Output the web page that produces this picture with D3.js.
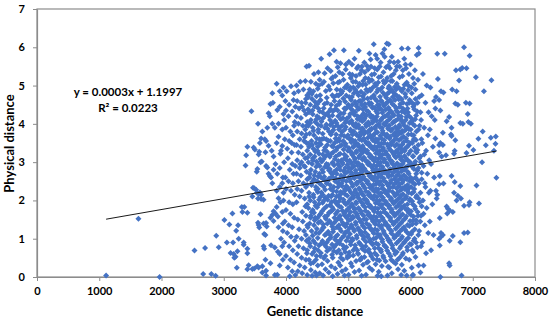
<!DOCTYPE html>
<html><head><meta charset="utf-8">
<script src="https://cdn.jsdelivr.net/npm/d3@7"></script>
<style>body{margin:0;background:#fff}svg{display:block}</style>
</head><body>
<svg id="c" width="550" height="321"></svg>
<script>
const xTicks=[0,1000,2000,3000,4000,5000,6000,7000,8000];
const yTicks=[0,1,2,3,4,5,6,7];
const trendX=[1110,7380];
const trendY=[1.51,3.29];
const equationLines=["y = 0.0003x + 1.1997","R\u00b2 = 0.0223"];
const xTitle="Genetic distance";
const yTitle="Physical distance";

// [genetic distance, physical distance]
const sparseLeft=[[1110,0.04],[1630,1.52],[1970,0.0],[2530,0.69],[2700,0.76],[2670,0.08],[2800,0.08],[2870,0.03],[2880,1.08],[2920,0.78],[3010,1.49],[3050,0.9],[3090,1.37],[3110,0.63],[3140,1.66],[3150,0.9],[3160,0.6],[3170,0.5],[3190,0.53],[3200,1.21],[3230,1.35],[3210,0.24],[3220,0.67],[3240,1.0],[3290,1.83],[3300,1.7],[3330,1.83],[3380,1.68],[3320,0.9],[3320,0.84],[3380,0.74],[3380,0.62],[3400,0.31],[3380,0.2],[3460,0.21],[3490,0.22],[3540,0.28],[3350,2.91],[3470,2.33],[3490,2.32],[3530,2.2],[3560,2.17],[3580,2.21],[3550,2.05],[3600,2.04],[3590,1.64],[3550,1.42],[3570,1.29],[3640,1.4],[3680,1.41],[3650,1.12],[3650,0.74],[3670,0.45],[3680,0.16],[3680,0.04],[3620,0.28],[3530,2.75],[3540,2.82],[3590,3.0],[3610,3.02],[3680,2.9],[3700,2.86],[3720,2.7],[3740,2.64],
[3445,4.33],[3750,4.52],[3790,4.55],[3720,4.28],[3740,4.2],[3380,3.4],[3480,3.38],[3500,3.33],[3580,3.5],[3660,3.6],[3720,3.43],[3570,3.27],[3670,3.26],[3770,3.3],[3940,4.74],[3860,4.36],[3900,4.45],[3960,4.26],[3600,3.62],[3680,3.55],[3880,3.66],[3940,3.42],[3360,3.18],[3560,3.2],[3800,3.15],[3910,3.22],
[3750,1.55],[3800,1.72],[3850,1.83],[3780,1.62],[3830,1.66],[3870,1.58],[3560,1.36],[3690,1.32],[3800,1.46],[3880,1.3],[3670,1.1],[3640,0.8],[3760,0.83],[3820,0.77],[3900,0.6],[3870,0.66],[3750,0.36],[3820,0.05],[3860,0.06],[3560,0.25],[3620,0.12],[3460,2.1],[3520,2.28],[3640,2.02],[3600,2.15],[3880,2.06],[3900,2.35],[3940,2.45],[3960,2.2],[3860,2.7],[3800,2.8],[3760,2.6],
[3820,3.9],[3880,4.0],[3940,3.85],[3850,3.5],[3920,3.3],[3830,2.95],[3900,2.85],[3950,2.6],[3780,2.45],[3850,2.25],[3910,1.95],[3940,1.7],[3950,1.4],[3920,1.0],[3940,0.8],[3900,0.3],[3950,0.45],[3780,4.0],[3700,3.9],[3620,3.8],[3550,4.0],[3780,4.8],[3850,5.05],[3900,4.85]];

const coreWest=[[3960,4.95],[4010,4.85],[4080,4.98],[4130,4.8],[3990,4.6],[4050,4.5],[4120,4.62],[3970,4.1],[4040,4.2],[4100,4.32],[4140,4.05],[4000,3.9],[4070,3.8],[4130,3.95],[3980,3.6],[4050,3.55],[4110,3.7],[4020,3.35],[4090,3.25],[4140,3.45],[3970,3.0],[4030,3.1],[4100,2.95],[4060,2.8],[4120,2.7],[3990,2.6],[4040,2.5],[4110,2.45],[4000,2.3],[4080,2.25],[4140,2.15],[3960,2.0],[4050,1.95],[4110,1.9],[4000,1.75],[4070,1.65],[4130,1.55],[3980,1.45],[4040,1.35],[4100,1.3],[4020,1.15],[4080,1.05],[4140,0.95],[3970,0.9],[4050,0.8],[4110,0.7],[4000,0.55],[4070,0.45],[4130,0.38],[4030,0.25],[4100,0.15],[4060,0.02],[4150,0.05],[3950,1.2],[4150,2.9],[4090,3.5],[4000,4.35],[4150,4.45],
[4170,5.0],[4230,5.1],[4310,5.12],[4330,5.5],[4200,4.85],[4280,4.9],[4340,4.75],[4180,4.6],[4250,4.55],[4320,4.65],[4210,4.4],[4290,4.35],[4170,4.2],[4240,4.15],[4320,4.25],[4200,4.0],[4270,3.95],[4340,4.05],[4180,3.8],[4250,3.75],[4310,3.85],[4220,3.6],[4290,3.55],[4170,3.45],[4240,3.4],[4330,3.5],[4200,3.25],[4270,3.2],[4340,3.3],[4180,3.05],[4250,3.0],[4310,3.1],[4220,2.85],[4290,2.9],[4170,2.7],[4240,2.65],[4330,2.75],[4200,2.5],[4280,2.45],[4340,2.55],[4180,2.3],[4250,2.25],[4320,2.35],[4220,2.1],[4300,2.05],[4170,1.95],[4340,1.9],[4260,1.7],[4320,1.6],[4190,1.5],[4270,1.45],[4340,1.35],[4210,1.25],[4290,1.2],[4170,1.05],[4250,1.0],[4330,0.95],[4200,0.8],[4280,0.75],[4340,0.7],[4180,0.6],[4250,0.5],[4320,0.45],[4220,0.3],[4300,0.25],[4260,0.1],[4340,0.05],[4190,0.15],[4230,2.95],[4300,3.65],[4260,4.45],
[4370,5.52],[4450,5.3],[4520,5.35],[4400,5.1],[4480,5.05],[4540,5.15],[4380,4.9],[4440,4.85],[4510,4.92],[4360,4.7],[4420,4.65],[4490,4.72],[4540,4.6],[4390,4.5],[4460,4.45],[4520,4.4],[4370,4.3],[4430,4.25],[4500,4.2],[4540,4.32],[4400,4.1],[4470,4.05],[4360,3.95],[4430,3.9],[4510,3.98],[4380,3.75],[4450,3.7],[4520,3.78],[4410,3.55],[4480,3.5],[4540,3.6],[4370,3.4],[4440,3.35],[4510,3.4],[4390,3.2],[4460,3.15],[4530,3.22],[4360,3.0],[4420,2.95],[4490,3.02],[4540,2.9],[4400,2.8],[4470,2.75],[4380,2.6],[4450,2.55],[4520,2.62],[4410,2.4],[4480,2.35],[4540,2.45],[4370,2.2],[4440,2.15],[4510,2.22],[4390,2.0],[4460,1.95],[4530,2.02],[4360,1.8],[4430,1.75],[4500,1.82],[4400,1.6],[4470,1.55],[4540,1.62],[4380,1.4],[4450,1.35],[4520,1.42],[4410,1.2],[4480,1.15],[4370,1.0],[4440,0.95],[4510,1.02],[4390,0.8],[4460,0.75],[4530,0.82],[4420,0.6],[4490,0.55],[4370,0.45],[4440,0.38],[4510,0.3],[4400,0.18],[4470,0.12],[4420,0.03],[4490,0.04],[4540,0.1],[4450,1.68],[4500,2.5],[4430,3.05],
[4565,5.7],[4620,5.32],[4580,5.05],[4640,4.86],[4555,4.62],[4605,4.41],[4635,4.24],[4570,4.06],[4625,3.9],[4590,3.74],[4648,3.6],[4560,3.47],[4612,3.31],[4640,3.16],[4575,3.02],[4628,2.88],[4595,2.74],[4556,2.61],[4645,2.5],[4605,2.36],[4568,2.21],[4632,2.07],[4588,1.94],[4615,1.79],[4560,1.66],[4640,1.52],[4598,1.37],[4572,1.22],[4625,1.1],[4585,0.94],[4645,0.79],[4560,0.63],[4610,0.49],[4578,0.33],[4635,0.2],[4595,0.04],
[4700,5.82],[4668,5.45],[4730,5.18],[4685,4.98],[4745,4.75],[4660,4.55],[4715,4.38],[4690,4.2],[4740,4.02],[4665,3.88],[4722,3.72],[4680,3.56],[4738,3.42],[4658,3.28],[4705,3.14],[4748,2.99],[4675,2.85],[4728,2.71],[4692,2.57],[4655,2.44],[4715,2.3],[4745,2.15],[4670,2.02],[4708,1.88],[4735,1.73],[4662,1.6],[4698,1.46],[4742,1.32],[4678,1.18],[4720,1.03],[4655,0.9],[4705,0.74],[4740,0.58],[4668,0.42],[4725,0.28],[4688,0.12],[4750,0.02],[4712,3.97],[4676,2.93],[4731,1.96],
[4770,5.92],[4830,5.48],[4795,5.25],[4760,5.06],[4815,4.9],[4845,4.74],[4778,4.6],[4808,4.47],[4755,4.33],[4838,4.2],[4790,4.08],[4822,3.96],[4762,3.84],[4805,3.72],[4848,3.61],[4780,3.5],[4825,3.38],[4758,3.26],[4800,3.15],[4840,3.03],[4772,2.92],[4815,2.81],[4752,2.69],[4795,2.58],[4835,2.46],[4768,2.35],[4812,2.23],[4846,2.12],[4782,2.0],[4825,1.89],[4760,1.77],[4800,1.65],[4842,1.54],[4775,1.42],[4818,1.3],[4756,1.18],[4798,1.05],[4836,0.92],[4770,0.78],[4815,0.64],[4750,0.5],[4840,0.38],[4790,0.22],[4828,0.08],
[4930,5.92],[4875,5.58],[4910,5.3],[4860,5.1],[4945,4.95],[4890,4.8],[4920,4.66],[4855,4.52],[4938,4.4],[4880,4.27],[4912,4.15],[4948,4.03],[4868,3.91],[4900,3.79],[4935,3.68],[4858,3.56],[4892,3.45],[4925,3.33],[4870,3.22],[4942,3.1],[4905,2.99],[4862,2.88],[4930,2.76],[4885,2.65],[4915,2.53],[4852,2.42],[4945,2.3],[4895,2.19],[4870,2.07],[4928,1.96],[4858,1.84],[4908,1.73],[4940,1.61],[4880,1.5],[4918,1.38],[4865,1.26],[4945,1.14],[4898,1.02],[4860,0.88],[4930,0.74],[4885,0.6],[4915,0.46],[4870,0.3],[4900,0.15],[4940,0.04]];

const coreMiddle=[[5010,5.62],[4960,5.42],[5040,5.2],[4985,5.02],[5025,4.88],[4968,4.74],[5045,4.62],[5002,4.5],[4955,4.38],[5030,4.26],[4978,4.14],[5018,4.03],[4962,3.92],[5042,3.81],[4995,3.7],[5028,3.59],[4958,3.48],[5010,3.37],[5048,3.26],[4972,3.15],[5022,3.04],[4988,2.93],[5040,2.82],[4955,2.71],[5005,2.6],[5035,2.49],[4970,2.38],[5015,2.27],[4950,2.16],[5045,2.05],[4992,1.94],[5025,1.83],[4962,1.72],[5008,1.61],[5040,1.5],[4978,1.39],[5020,1.28],[4955,1.16],[5000,1.04],[5035,0.92],[4970,0.78],[5015,0.64],[4985,0.5],[5042,0.36],[4960,0.2],[5005,0.06],
[5100,5.7],[5140,5.45],[5065,5.28],[5120,5.1],[5082,4.95],[5145,4.82],[5058,4.7],[5110,4.58],[5135,4.46],[5072,4.35],[5098,4.24],[5148,4.13],[5060,4.02],[5125,3.91],[5090,3.8],[5140,3.7],[5055,3.6],[5115,3.5],[5078,3.39],[5132,3.29],[5062,3.19],[5105,3.08],[5145,2.98],[5085,2.88],[5120,2.78],[5052,2.68],[5098,2.58],[5138,2.47],[5070,2.37],[5112,2.27],[5148,2.17],[5082,2.07],[5125,1.96],[5058,1.86],[5102,1.76],[5140,1.65],[5075,1.54],[5118,1.43],[5052,1.32],[5095,1.2],[5135,1.08],[5068,0.96],[5110,0.83],[5145,0.7],[5080,0.56],[5125,0.42],[5060,0.28],[5100,0.13],
[5170,5.91],[5220,5.5],[5188,5.3],[5240,5.12],[5160,4.98],[5205,4.84],[5232,4.72],[5175,4.6],[5215,4.49],[5155,4.38],[5245,4.27],[5192,4.17],[5225,4.07],[5165,3.97],[5208,3.87],[5238,3.77],[5178,3.67],[5218,3.57],[5158,3.47],[5198,3.37],[5242,3.27],[5182,3.17],[5228,3.07],[5165,2.97],[5205,2.87],[5235,2.77],[5172,2.67],[5212,2.57],[5155,2.47],[5248,2.37],[5190,2.27],[5222,2.17],[5162,2.07],[5200,1.97],[5240,1.87],[5178,1.76],[5215,1.66],[5152,1.56],[5195,1.45],[5232,1.34],[5170,1.23],[5210,1.11],[5245,0.99],[5185,0.87],[5225,0.74],[5160,0.6],[5200,0.46],[5238,0.32],[5175,0.17],[5215,0.03],
[5340,5.84],[5300,5.52],[5265,5.35],[5325,5.18],[5280,5.03],[5345,4.9],[5258,4.78],[5310,4.66],[5335,4.55],[5272,4.44],[5298,4.34],[5348,4.24],[5262,4.14],[5322,4.04],[5288,3.94],[5340,3.84],[5255,3.74],[5315,3.64],[5278,3.54],[5332,3.44],[5262,3.34],[5305,3.24],[5345,3.14],[5285,3.04],[5320,2.94],[5252,2.84],[5298,2.74],[5338,2.64],[5270,2.54],[5312,2.44],[5348,2.34],[5282,2.24],[5325,2.14],[5258,2.04],[5302,1.94],[5340,1.84],[5275,1.73],[5318,1.62],[5252,1.51],[5295,1.4],[5335,1.29],[5268,1.17],[5310,1.05],[5345,0.93],[5280,0.8],[5325,0.66],[5260,0.52],[5300,0.38],[5340,0.24],[5285,0.06],
[5410,6.08],[5440,5.8],[5365,5.5],[5420,5.3],[5382,5.14],[5445,5.0],[5358,4.87],[5410,4.75],[5435,4.64],[5372,4.53],[5398,4.43],[5448,4.33],[5360,4.23],[5425,4.13],[5390,4.03],[5440,3.93],[5355,3.83],[5415,3.73],[5378,3.63],[5432,3.53],[5362,3.43],[5405,3.33],[5445,3.23],[5385,3.13],[5420,3.03],[5352,2.93],[5398,2.83],[5438,2.73],[5370,2.63],[5412,2.53],[5448,2.43],[5382,2.33],[5425,2.23],[5358,2.13],[5402,2.03],[5440,1.93],[5375,1.82],[5418,1.71],[5352,1.6],[5395,1.49],[5435,1.38],[5368,1.26],[5410,1.14],[5445,1.02],[5380,0.89],[5425,0.75],[5360,0.61],[5400,0.47],[5440,0.33],[5385,0.18],[5470,0.03]];

const coreEast=[[5550,5.84],[5520,5.6],[5465,5.42],[5525,5.24],[5480,5.08],[5545,4.95],[5458,4.83],[5510,4.71],[5535,4.6],[5472,4.49],[5498,4.39],[5548,4.29],[5460,4.19],[5522,4.09],[5488,3.99],[5540,3.89],[5455,3.79],[5515,3.69],[5478,3.59],[5532,3.49],[5462,3.39],[5505,3.29],[5545,3.19],[5485,3.09],[5520,2.99],[5452,2.89],[5498,2.79],[5538,2.69],[5470,2.59],[5512,2.49],[5548,2.39],[5482,2.29],[5525,2.19],[5458,2.09],[5502,1.99],[5540,1.89],[5475,1.78],[5518,1.67],[5452,1.56],[5495,1.45],[5535,1.34],[5468,1.22],[5510,1.1],[5545,0.98],[5480,0.85],[5525,0.71],[5460,0.57],[5500,0.43],[5540,0.29],[5490,0.14],[5530,0.02],
[5620,6.1],[5650,6.08],[5585,5.75],[5640,5.52],[5565,5.35],[5625,5.2],[5580,5.06],[5645,4.93],[5558,4.81],[5610,4.69],[5635,4.58],[5572,4.47],[5598,4.37],[5648,4.27],[5560,4.17],[5622,4.07],[5588,3.97],[5640,3.87],[5555,3.77],[5615,3.67],[5578,3.57],[5632,3.47],[5562,3.37],[5605,3.27],[5645,3.17],[5585,3.07],[5620,2.97],[5552,2.87],[5598,2.77],[5638,2.67],[5570,2.57],[5612,2.47],[5648,2.37],[5582,2.27],[5625,2.17],[5558,2.07],[5602,1.97],[5640,1.87],[5575,1.76],[5618,1.65],[5552,1.54],[5595,1.43],[5635,1.32],[5568,1.2],[5610,1.08],[5645,0.96],[5580,0.83],[5625,0.69],[5560,0.55],[5600,0.41],[5640,0.27],[5630,0.04],
[5700,5.75],[5670,5.45],[5730,5.3],[5685,5.12],[5745,4.96],[5660,4.83],[5715,4.7],[5690,4.58],[5740,4.47],[5665,4.36],[5722,4.26],[5680,4.16],[5738,4.06],[5658,3.96],[5705,3.86],[5748,3.76],[5675,3.66],[5728,3.56],[5692,3.46],[5655,3.36],[5715,3.26],[5745,3.16],[5670,3.06],[5708,2.96],[5735,2.86],[5662,2.76],[5698,2.66],[5742,2.56],[5678,2.46],[5720,2.36],[5655,2.26],[5748,2.16],[5690,2.06],[5722,1.96],[5662,1.86],[5700,1.76],[5740,1.65],[5678,1.54],[5715,1.43],[5652,1.32],[5695,1.2],[5735,1.08],[5668,0.95],[5710,0.82],[5745,0.68],[5680,0.54],[5725,0.4],[5660,0.25],[5700,0.1],
[5860,5.97],[5800,5.62],[5765,5.4],[5825,5.22],[5780,5.05],[5845,4.9],[5758,4.77],[5810,4.64],[5835,4.52],[5772,4.41],[5798,4.3],[5848,4.19],[5760,4.08],[5822,3.97],[5788,3.87],[5840,3.77],[5755,3.67],[5815,3.57],[5778,3.47],[5832,3.37],[5762,3.27],[5805,3.17],[5845,3.07],[5785,2.97],[5820,2.87],[5752,2.77],[5798,2.67],[5838,2.57],[5770,2.47],[5812,2.37],[5848,2.27],[5782,2.17],[5825,2.07],[5758,1.97],[5802,1.87],[5840,1.76],[5775,1.65],[5818,1.54],[5752,1.43],[5795,1.32],[5835,1.2],[5768,1.07],[5810,0.94],[5845,0.8],[5780,0.65],[5825,0.5],[5760,0.35],[5800,0.2],[5850,0.05],
[5960,5.97],[5900,5.7],[5930,5.45],[5870,5.25],[5940,5.08],[5885,4.92],[5915,4.78],[5858,4.64],[5945,4.52],[5878,4.4],[5910,4.29],[5935,4.18],[5862,4.07],[5898,3.96],[5928,3.86],[5855,3.76],[5890,3.66],[5940,3.56],[5870,3.46],[5918,3.36],[5852,3.26],[5905,3.16],[5945,3.06],[5875,2.96],[5920,2.86],[5858,2.76],[5895,2.66],[5938,2.56],[5868,2.46],[5912,2.36],[5948,2.26],[5880,2.16],[5925,2.06],[5855,1.96],[5900,1.86],[5940,1.75],[5872,1.64],[5915,1.53],[5852,1.42],[5895,1.3],[5935,1.18],[5865,1.05],[5910,0.92],[5945,0.78],[5880,0.63],[5925,0.48],[5860,0.32],[5900,0.16],[5940,0.04],
[6000,5.55],[6040,5.2],[5965,5.0],[6020,4.8],[5985,4.62],[6045,4.45],[5960,4.3],[6010,4.15],[6035,4.0],[5975,3.86],[6015,3.72],[6048,3.58],[5968,3.44],[6005,3.3],[6040,3.16],[5980,3.02],[6025,2.88],[5958,2.74],[6000,2.6],[6042,2.46],[5972,2.32],[6018,2.18],[5990,2.04],[6035,1.9],[5962,1.76],[6008,1.62],[6045,1.48],[5982,1.33],[6025,1.18],[5965,1.02],[6010,0.85],[6040,0.66],[5980,0.45],[6020,0.24],[6035,0.04],
[6130,5.98],[6100,5.8],[6135,5.84],[6070,5.4],[6120,5.15],[6080,4.9],[6140,4.7],[6060,4.5],[6110,4.32],[6075,4.12],[6145,3.95],[6095,3.8],[6060,3.62],[6125,3.45],[6085,3.28],[6140,3.1],[6065,2.95],[6110,2.78],[6080,2.6],[6135,2.45],[6060,2.3],[6100,2.12],[6145,1.95],[6075,1.78],[6120,1.6],[6090,1.4],[6140,1.2],[6065,1.0],[6110,0.78],[6080,0.52],[6130,0.3],[6040,0.06]];

const coreDenseWest=[[4315,4.55],[4355,4.38],[4390,4.02],[4325,3.72],[4362,3.48],[4345,3.12],[4305,2.88],[4385,2.7],[4338,2.4],[4372,2.1],[4312,1.85],[4395,1.55],[4350,1.3],[4320,1.1],[4380,0.88],[4335,0.62],[4398,0.35],[4360,2.58],[4330,3.95],[4375,4.82],
[4415,4.78],[4465,4.58],[4425,4.35],[4488,4.12],[4440,3.82],[4495,3.62],[4418,3.45],[4470,3.28],[4432,3.1],[4485,2.88],[4455,2.65],[4420,2.48],[4490,2.28],[4445,2.08],[4475,1.86],[4412,1.7],[4460,1.48],[4495,1.26],[4428,1.08],[4470,0.88],[4445,0.65],[4482,0.45],
[4525,5.0],[4548,4.75],[4505,4.52],[4585,4.3],[4532,4.15],[4562,3.95],[4518,3.85],[4575,3.6],[4540,3.5],[4505,3.3],[4590,3.2],[4550,3.08],[4515,2.95],[4580,2.8],[4535,2.7],[4600,2.55],[4558,2.42],[4512,2.3],[4590,2.15],[4548,2.08],[4525,1.9],[4578,1.72],[4508,1.55],[4555,1.45],[4592,1.28],[4530,1.15],[4570,0.88],[4515,0.7],[4552,0.55],
[4610,5.1],[4655,4.68],[4618,4.52],[4682,4.3],[4598,4.15],[4648,3.98],[4690,3.8],[4608,3.62],[4662,3.45],[4628,3.38],[4688,3.2],[4605,3.08],[4650,2.95],[4692,2.78],[4615,2.62],[4668,2.5],[4630,2.28],[4685,2.12],[4610,2.0],[4655,1.85],[4690,1.68],[4625,1.58],[4665,1.4],[4605,1.3],[4648,1.12],[4688,0.98],[4618,0.85],[4660,0.68],[4632,0.55],
[4718,5.38],[4752,5.22],[4705,4.9],[4770,4.7],[4725,4.5],[4790,4.38],[4745,4.22],[4708,4.1],[4768,3.92],[4735,3.78],[4795,3.62],[4712,3.55],[4760,3.4],[4728,3.22],[4785,3.08],[4748,2.98],[4705,2.82],[4772,2.75],[4738,2.62],[4790,2.5],[4710,2.4],[4755,2.25],[4725,2.1],[4792,1.95],[4742,1.82],[4708,1.7],[4778,1.55],[4730,1.4],[4762,1.25],[4712,1.1],[4788,0.98],[4740,0.85],[4768,0.68],
[4812,5.62],[4855,5.35],[4835,5.08],[4875,4.88],[4818,4.75],[4862,4.58],[4830,4.35],[4880,4.12],[4812,4.02],[4850,3.85],[4885,3.7],[4828,3.55],[4865,3.42],[4808,3.32],[4848,3.2],[4890,3.05],[4832,2.95],[4870,2.8],[4815,2.7],[4855,2.55],[4892,2.45],[4835,2.35],[4878,2.22],[4810,2.1],[4852,1.98],[4888,1.82],[4830,1.72],[4868,1.6],[4810,1.48],[4850,1.35],[4885,1.2],[4828,1.1],[4865,0.95],[4808,0.85],[4848,0.7],[4880,0.5],
[4962,5.55],[4925,5.15],[4975,4.95],[4905,4.85],[4952,4.58],[4988,4.45],[4928,4.28],[4965,4.08],[4902,3.95],[4945,3.85],[4982,3.65],[4920,3.55],[4958,3.42],[4995,3.3],[4938,3.2],[4975,3.05],[4910,2.95],[4952,2.85],[4990,2.75],[4930,2.62],[4968,2.5],[4902,2.38],[4945,2.25],[4985,2.12],[4925,2.02],[4962,1.9],[4998,1.78],[4935,1.66],[4975,1.55],[4912,1.42],[4955,1.32],[4990,1.2],[4932,1.08],[4970,0.95],[4915,0.82],[4952,0.65],[4990,0.55]];

const coreDenseMiddle=[[5060,5.55],[5022,5.3],[5075,5.1],[5035,4.95],[5090,4.8],[5015,4.7],[5065,4.5],[5040,4.4],[5085,4.3],[5012,4.18],[5055,4.08],[5090,3.95],[5035,3.85],[5070,3.72],[5005,3.65],[5048,3.52],[5088,3.42],[5025,3.3],[5062,3.22],[5095,3.12],[5038,3.0],[5075,2.92],[5012,2.85],[5052,2.72],[5090,2.62],[5030,2.55],[5068,2.42],[5005,2.32],[5045,2.2],[5082,2.12],[5022,2.0],[5060,1.9],[5095,1.8],[5035,1.7],[5072,1.58],[5010,1.48],[5050,1.36],[5088,1.25],[5028,1.12],[5065,1.0],[5040,0.85],[5080,0.7],[5020,0.55],
[5160,5.5],[5125,5.25],[5180,5.05],[5112,4.9],[5165,4.75],[5195,4.6],[5132,4.52],[5175,4.4],[5108,4.3],[5150,4.2],[5188,4.1],[5122,4.0],[5168,3.9],[5198,3.78],[5135,3.72],[5182,3.6],[5110,3.55],[5155,3.42],[5192,3.32],[5128,3.25],[5170,3.12],[5105,3.02],[5148,2.92],[5185,2.82],[5120,2.72],[5162,2.62],[5198,2.52],[5135,2.42],[5175,2.32],[5108,2.22],[5150,2.12],[5190,2.02],[5128,1.92],[5165,1.8],[5105,1.7],[5145,1.6],[5185,1.5],[5122,1.38],[5160,1.28],[5198,1.15],[5138,1.02],[5175,0.9],[5112,0.76],[5155,0.62],[5190,0.45],
[5258,5.6],[5212,5.4],[5275,5.2],[5230,5.02],[5290,4.9],[5250,4.65],[5205,4.58],[5268,4.52],[5235,4.38],[5292,4.22],[5210,4.2],[5252,4.1],[5282,3.98],[5228,3.88],[5265,3.8],[5205,3.72],[5248,3.62],[5290,3.5],[5232,3.42],[5270,3.3],[5208,3.22],[5252,3.12],[5288,3.02],[5222,2.92],[5262,2.82],[5205,2.72],[5245,2.62],[5285,2.52],[5228,2.42],[5268,2.32],[5208,2.22],[5250,2.12],[5290,2.02],[5232,1.92],[5270,1.82],[5205,1.72],[5248,1.6],[5288,1.5],[5225,1.4],[5265,1.28],[5208,1.18],[5248,1.05],[5285,0.92],[5228,0.8],[5268,0.68],[5212,0.5],
[5360,5.68],[5318,5.42],[5378,5.28],[5335,5.1],[5395,4.95],[5312,4.85],[5365,4.68],[5342,4.5],[5388,4.42],[5320,4.32],[5362,4.18],[5395,4.08],[5335,3.98],[5375,3.88],[5310,3.78],[5352,3.7],[5392,3.58],[5328,3.5],[5368,3.38],[5305,3.3],[5345,3.2],[5385,3.08],[5322,3.0],[5362,2.9],[5398,2.78],[5335,2.7],[5372,2.58],[5310,2.5],[5350,2.4],[5390,2.28],[5328,2.2],[5365,2.08],[5305,1.98],[5345,1.88],[5385,1.78],[5322,1.68],[5360,1.55],[5398,1.45],[5338,1.35],[5375,1.22],[5312,1.1],[5352,0.98],[5390,0.85],[5330,0.72],[5368,0.55],[5318,0.4],
[5465,5.7],[5425,5.45],[5490,5.22],[5432,5.05],[5478,4.9],[5412,4.7],[5462,4.6],[5495,4.5],[5428,4.42],[5470,4.28],[5405,4.18],[5452,4.08],[5490,3.98],[5430,3.88],[5468,3.78],[5402,3.68],[5445,3.6],[5485,3.5],[5422,3.4],[5462,3.3],[5498,3.2],[5438,3.1],[5475,3.0],[5410,2.92],[5452,2.8],[5490,2.7],[5428,2.62],[5468,2.5],[5405,2.4],[5445,2.3],[5482,2.2],[5420,2.12],[5460,2.0],[5498,1.9],[5435,1.8],[5475,1.68],[5412,1.58],[5452,1.48],[5490,1.36],[5430,1.25],[5470,1.12],[5408,1.0],[5448,0.88],[5488,0.75],[5428,0.62],[5465,0.45]];

const coreDenseEast=[[5580,5.95],[5505,5.5],[5565,5.12],[5515,4.9],[5590,4.75],[5525,4.6],[5568,4.52],[5505,4.42],[5548,4.35],[5590,4.2],[5528,4.12],[5572,4.0],[5508,3.92],[5552,3.82],[5595,3.7],[5535,3.62],[5575,3.5],[5510,3.42],[5555,3.32],[5592,3.22],[5530,3.12],[5570,3.02],[5505,2.92],[5548,2.82],[5588,2.72],[5525,2.62],[5565,2.52],[5502,2.42],[5545,2.32],[5585,2.22],[5522,2.12],[5562,2.02],[5598,1.92],[5538,1.82],[5578,1.7],[5515,1.6],[5555,1.5],[5592,1.38],[5532,1.28],[5572,1.15],[5508,1.05],[5548,0.92],[5588,0.8],[5528,0.66],[5568,0.5],
[5668,5.62],[5608,5.48],[5690,5.25],[5612,5.12],[5655,4.98],[5690,4.9],[5625,4.78],[5668,4.62],[5605,4.52],[5648,4.42],[5688,4.32],[5625,4.22],[5665,4.12],[5602,4.02],[5645,3.92],[5685,3.82],[5622,3.72],[5662,3.62],[5698,3.52],[5640,3.42],[5678,3.32],[5612,3.22],[5652,3.12],[5692,3.02],[5632,2.92],[5672,2.82],[5608,2.72],[5648,2.62],[5688,2.52],[5628,2.42],[5665,2.32],[5602,2.22],[5642,2.12],[5682,2.02],[5622,1.92],[5660,1.8],[5698,1.7],[5638,1.6],[5678,1.48],[5615,1.38],[5655,1.26],[5692,1.14],[5632,1.02],[5672,0.9],[5612,0.78],[5652,0.62],[5690,0.45],
[5735,5.6],[5780,5.5],[5710,5.12],[5768,4.9],[5725,4.82],[5790,4.72],[5752,4.62],[5708,4.52],[5772,4.35],[5732,4.22],[5795,4.12],[5712,4.02],[5758,3.92],[5792,3.82],[5728,3.72],[5768,3.62],[5705,3.52],[5750,3.42],[5788,3.32],[5725,3.22],[5765,3.12],[5705,3.02],[5748,2.92],[5785,2.82],[5722,2.72],[5762,2.62],[5798,2.52],[5738,2.42],[5775,2.32],[5712,2.22],[5752,2.12],[5790,2.02],[5730,1.92],[5768,1.82],[5705,1.7],[5745,1.6],[5785,1.48],[5725,1.38],[5762,1.26],[5798,1.14],[5738,1.02],[5775,0.88],[5712,0.75],[5752,0.6],[5792,0.45],
[5825,5.5],[5878,5.4],[5808,4.95],[5862,4.85],[5818,4.7],[5880,4.55],[5828,4.45],[5862,4.32],[5805,4.22],[5845,4.12],[5885,4.02],[5825,3.92],[5865,3.82],[5802,3.72],[5848,3.62],[5888,3.52],[5828,3.42],[5868,3.32],[5808,3.22],[5850,3.12],[5888,3.02],[5830,2.92],[5870,2.82],[5808,2.72],[5848,2.62],[5885,2.52],[5825,2.42],[5865,2.32],[5802,2.22],[5842,2.12],[5882,2.02],[5822,1.92],[5862,1.82],[5805,1.7],[5845,1.6],[5885,1.48],[5825,1.38],[5862,1.25],[5808,1.12],[5848,1.0],[5888,0.88],[5828,0.75],[5868,0.58],
[5920,5.55],[5975,5.3],[5905,5.02],[5962,4.88],[5925,4.7],[5985,4.55],[5952,4.4],[5905,4.35],[5968,4.22],[5925,4.1],[5988,4.02],[5948,3.92],[5905,3.82],[5965,3.72],[5928,3.62],[5990,3.5],[5950,3.4],[5908,3.3],[5970,3.22],[5930,3.1],[5992,3.0],[5955,2.9],[5910,2.8],[5972,2.7],[5932,2.6],[5990,2.5],[5952,2.4],[5908,2.3],[5968,2.2],[5930,2.1],[5988,2.0],[5950,1.9],[5910,1.8],[5970,1.68],[5930,1.58],[5992,1.46],[5952,1.36],[5912,1.24],[5972,1.12],[5935,0.98],[5990,0.86],[5950,0.7],
[6060,5.05],[6015,4.95],[6080,4.65],[6025,4.55],[6060,4.38],[6090,4.22],[6030,4.08],[6068,3.95],[6005,3.85],[6050,3.7],[6088,3.58],[6028,3.5],[6065,3.38],[6098,3.25],[6040,3.15],[6078,3.02],[6012,2.95],[6055,2.82],[6092,2.7],[6032,2.55],[6070,2.42],[6010,2.35],[6050,2.22],[6088,2.08],[6028,1.98],[6068,1.85],[6008,1.72],[6048,1.58],[6090,1.48],[6030,1.38],[6068,1.25],[6012,1.12],[6050,0.95],[6088,0.9],[6030,0.7],
[6115,4.55],[6160,4.3],[6130,3.85],[6175,3.6],[6112,3.32],[6165,3.0],[6128,2.85],[6180,2.72],[6118,2.52],[6160,2.2],[6130,2.05],[6180,1.85],[6115,1.7],[6158,1.45],[6125,1.1],[6170,0.8],[6220,3.2],[6230,2.45],[6210,1.65]];

const sparseRight=[[6200,5.3],[6260,5.0],[6180,4.75],[6240,4.55],[6290,4.3],[6170,4.1],[6220,3.9],[6280,3.7],[6190,3.5],[6250,3.3],[6160,3.15],[6300,3.05],[6210,2.9],[6270,2.7],[6180,2.55],[6240,2.35],[6295,2.2],[6200,2.0],[6260,1.8],[6170,1.6],[6230,1.35],[6285,1.15],[6190,0.9],[6250,0.62],[6210,0.3],[6160,0.12],
[6320,4.95],[6380,4.6],[6340,4.2],[6310,3.85],[6360,3.4],[6330,2.95],[6380,2.6],[6320,2.25],[6350,1.9],[6310,1.45],[6370,1.1],[6330,0.7],
[6430,5.83],[6550,5.83],[6860,6.0],[6950,5.78],[6730,5.4],[6800,5.42],[6830,5.46],[6900,5.45],[6780,5.13],[7050,5.22],[7300,5.14],[6440,5.17],[6490,4.85],[6670,4.9],[6740,4.85],[7180,4.85],[6760,4.5],[6950,4.53],[6920,4.26],[6930,4.05],[6970,4.0],[6800,4.02],[6840,4.0],[6580,4.07],[6390,4.1],[6650,3.72],[6660,3.68],[6400,3.62],[6480,3.5],[6520,3.45],[6460,3.45],[7090,3.61],[7210,3.44],[7365,3.48],[7010,3.32],[6900,3.24],[6710,3.3],[6700,3.22],[6460,3.25],[6500,3.15],[6570,3.18],[6410,4.7],[6460,4.62],[6530,4.82],[6720,4.53],[6890,4.55],[6400,4.4],[6480,4.35],[6620,4.18],[6520,3.77],[6660,3.9],[7160,3.8],[7290,3.64],[7370,3.67],[6720,3.57],[6940,3.43],[7340,3.3],
[7150,3.0],[7380,2.59],[6470,2.64],[6660,2.64],[6710,2.48],[6460,2.42],[6530,2.44],[6800,2.38],[7060,2.39],[6410,2.25],[6430,2.15],[6420,2.05],[6700,2.2],[6760,2.12],[6740,2.0],[6810,2.05],[6950,1.95],[6940,1.88],[7100,1.92],[6860,1.86],[6580,1.84],[6600,1.78],[6630,1.74],[6680,1.7],[6590,1.66],[6470,1.54],[6490,1.15],[6460,1.0],[6490,1.05],[6520,1.1],[6680,1.07],[6630,0.95],[6800,0.91],[6860,1.15],[6920,1.16],[6470,0.82],[6620,0.36],[6630,0.3],[6480,0.0],[6820,0.04]];

const samples=[].concat(sparseLeft,coreWest,coreMiddle,coreEast,coreDenseWest,coreDenseMiddle,coreDenseEast,sparseRight);

const svg=d3.select("#c");
const x=d3.scaleLinear().domain([0,8000]).range([37,535]);
const y=d3.scaleLinear().domain([0,7]).range([277,9]);
const FONT="Lato, 'Open Sans', sans-serif";
const axisColor="#8c8c8c";

svg.append("rect").attr("x",x(0)).attr("y",y(7)).attr("width",x(8000)-x(0)).attr("height",y(0)-y(7))
  .attr("fill","none").attr("stroke",axisColor).attr("stroke-width",1.2);

const xAxis=svg.append("g").attr("transform",`translate(0,${y(0)})`)
  .call(d3.axisBottom(x).tickValues(xTicks).tickSize(4).tickSizeOuter(0).tickPadding(6).tickFormat(d3.format("d")));
const yAxis=svg.append("g").attr("transform",`translate(${x(0)},0)`)
  .call(d3.axisLeft(y).tickValues(yTicks).tickSize(4).tickSizeOuter(0).tickPadding(8).tickFormat(d3.format("d")));
[xAxis,yAxis].forEach(g=>{
  g.selectAll("path.domain").attr("stroke",axisColor).attr("stroke-width",1.2);
  g.selectAll(".tick line").attr("stroke",axisColor);
  g.selectAll("text").attr("font-family",FONT).attr("font-weight","bold").attr("font-size","11px").attr("fill","#000");
});

const r=3.0;
svg.append("g").selectAll("path").data(samples).join("path")
  .attr("d",d=>{const cx=x(d[0]),cy=y(d[1]);return `M${cx},${cy-r}L${cx+r},${cy}L${cx},${cy+r}L${cx-r},${cy}Z`;})
  .attr("fill","#4472c4");

svg.append("line").attr("x1",x(trendX[0])).attr("y1",y(trendY[0])).attr("x2",x(trendX[1])).attr("y2",y(trendY[1]))
  .attr("stroke","#1a1a1a").attr("stroke-width",1);

svg.append("g").selectAll("text").data(equationLines).join("text")
  .attr("x",128).attr("y",(d,i)=>96+i*16).attr("text-anchor","middle")
  .attr("font-family",FONT).attr("font-weight","bold").attr("font-size","11.5px").text(d=>d);

svg.append("text").attr("x",315).attr("y",316).attr("text-anchor","middle")
  .attr("font-family",FONT).attr("font-weight","bold").attr("font-size","13px").text(xTitle);
svg.append("text").attr("transform","translate(14,143.5) rotate(-90)").attr("text-anchor","middle")
  .attr("font-family",FONT).attr("font-weight","bold").attr("font-size","13px").text(yTitle);
</script>
</body></html>
